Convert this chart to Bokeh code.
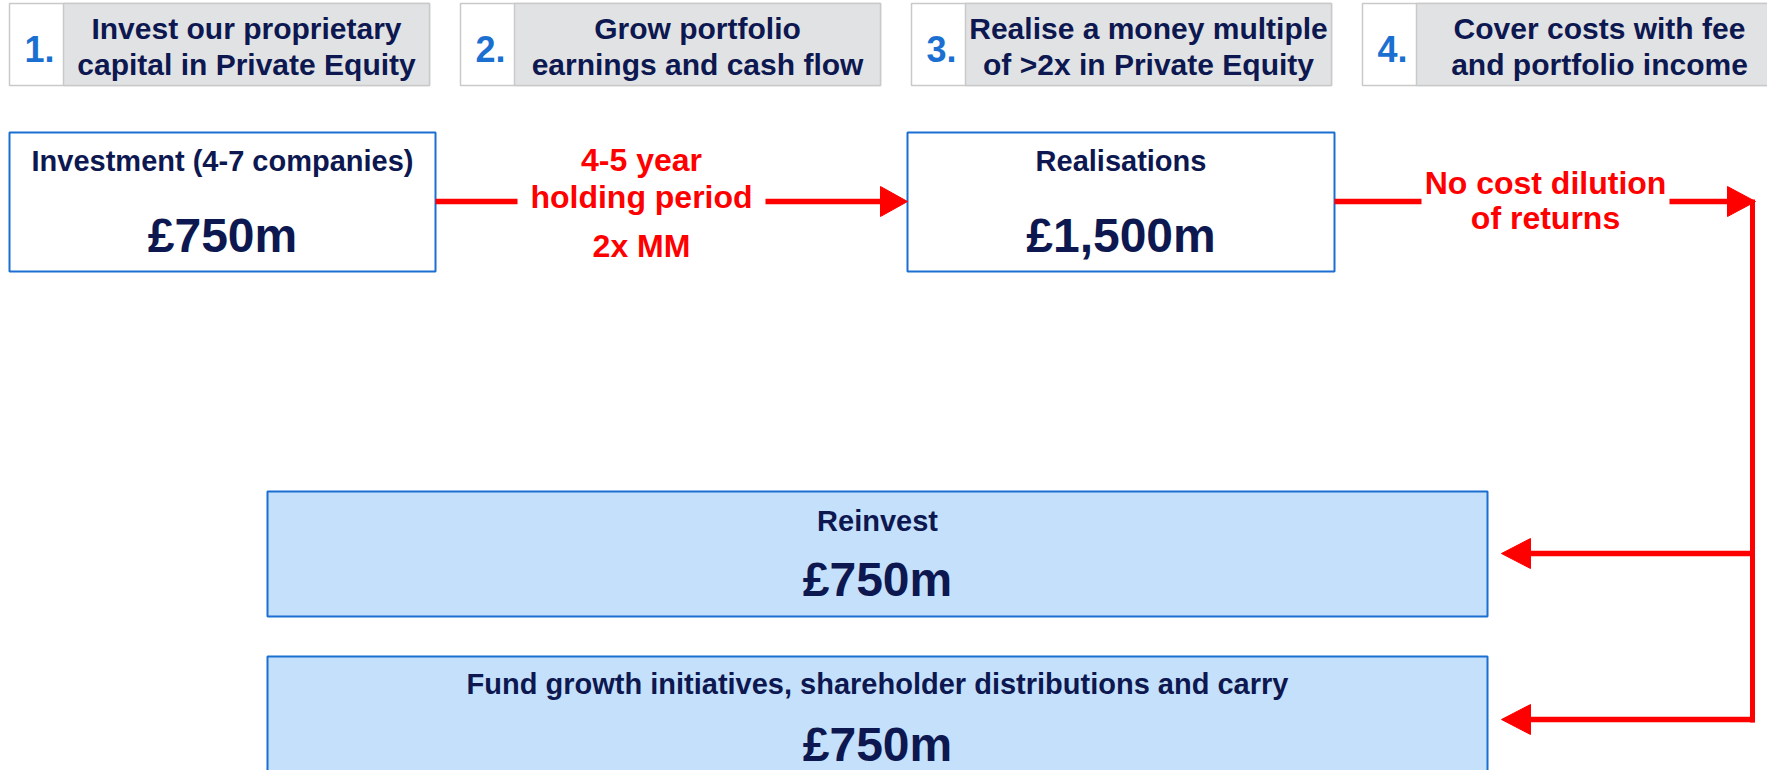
from bokeh.plotting import figure
from bokeh.models import Range1d
from bokeh.core.properties import value
from bokeh.embed import file_html
from bokeh.resources import INLINE

# ---- content ----
step_numbers = ["1.", "2.", "3.", "4."]
step_line1 = ["Invest our proprietary", "Grow portfolio", "Realise a money multiple", "Cover costs with fee"]
step_line2 = ["capital in Private Equity", "earnings and cash flow", "of >2x in Private Equity", "and portfolio income"]

top_titles = ["Investment (4-7 companies)", "Realisations"]
top_values = ["£750m", "£1,500m"]
arrow1_labels = ["4-5 year", "holding period", "2x MM"]
arrow2_labels = ["No cost dilution", "of returns"]
bottom_titles = ["Reinvest", "Fund growth initiatives, shareholder distributions and carry"]
bottom_values = ["£750m", "£750m"]

NAVY = "#0d1850"
BLUE = "#1a6fd1"
RED = "#ff0000"
FONT = value("Liberation Sans")

W, H = 1767, 770
p = figure(width=W, height=H, output_backend="svg", toolbar_location=None,
           x_range=Range1d(0, W), y_range=Range1d(H, 0),
           min_border=0, outline_line_color=None)
p.axis.visible = False
p.grid.visible = False
p.background_fill_color = "white"

def txt(x, y, t, size, color, align="center"):
    p.text(x=[x], y=[y], text=[t], text_font=FONT, text_font_style="bold",
           text_font_size=f"{size}px", text_color=color, text_align=align,
           text_baseline="middle")

# ---- header step boxes ----
hb_left0, hb_w, hb_gap = 9, 420, 451
hb_top, hb_bot = 3, 85
num_w = 54
for i in range(4):
    l = hb_left0 + i * hb_gap
    r = l + hb_w
    p.quad(left=[l], right=[r], top=[hb_top], bottom=[hb_bot], fill_color="white",
           line_color="#c9c9c9", line_width=1.5)
    p.quad(left=[l + num_w], right=[r], top=[hb_top], bottom=[hb_bot], fill_color="#e1e2e4",
           line_color="#c9c9c9", line_width=1.5)
    txt(l + 30, 48, step_numbers[i], 36, BLUE)
    cx = (l + num_w + r) / 2
    txt(cx, 28, step_line1[i], 30, NAVY)
    txt(cx, 64, step_line2[i], 30, NAVY)

# ---- top boxes ----
top_boxes = [(9, 435), (907, 1334)]
for (l, r), t, v in zip(top_boxes, top_titles, top_values):
    p.quad(left=[l], right=[r], top=[132], bottom=[271], fill_color="white",
           line_color=BLUE, line_width=2)
    cx = (l + r) / 2
    txt(cx, 160, t, 29, NAVY)
    txt(cx, 235, v, 48, NAVY)

LW = 5.5
# arrow 1
ay = 201
p.segment(x0=[435, 765], y0=[ay, ay], x1=[517, 884], y1=[ay, ay], line_color=RED, line_width=LW)
p.patch(x=[880, 907, 880], y=[ay - 15, ay, ay + 15], fill_color=RED, line_color=RED)
for lab, y in zip(arrow1_labels, [159, 196, 245]):
    txt(641, y, lab, 32, RED)

# arrow 2 to the right
p.segment(x0=[1334, 1669], y0=[ay, ay], x1=[1421, 1730], y1=[ay, ay], line_color=RED, line_width=LW)
p.patch(x=[1727, 1755, 1727], y=[ay - 15, ay, ay + 15], fill_color=RED, line_color=RED)
for lab, y in zip(arrow2_labels, [182, 217]):
    txt(1545, y, lab, 32, RED)

# vertical connector
vx = 1752
p.segment(x0=[vx], y0=[ay - 2], x1=[vx], y1=[722], line_color=RED, line_width=5)

# left arrows to bottom boxes
for y in [553, 719]:
    p.segment(x0=[vx + 2], y0=[y], x1=[1525], y1=[y], line_color=RED, line_width=LW)
    p.patch(x=[1530, 1501, 1530], y=[y - 15, y, y + 15], fill_color=RED, line_color=RED)

# ---- bottom boxes ----
bl, br = 267, 1487
for (top, bot), t, v, ty, vy in zip([(491, 616), (656, 800)], bottom_titles, bottom_values,
                                   [520, 683], [579, 744]):
    p.quad(left=[bl], right=[br], top=[top], bottom=[bot], fill_color="#c5e0fb",
           line_color=BLUE, line_width=2)
    cx = (bl + br) / 2
    txt(cx, ty, t, 29, NAVY)
    txt(cx, vy, v, 48, NAVY)

open("out.html", "w").write(file_html(p, INLINE))
